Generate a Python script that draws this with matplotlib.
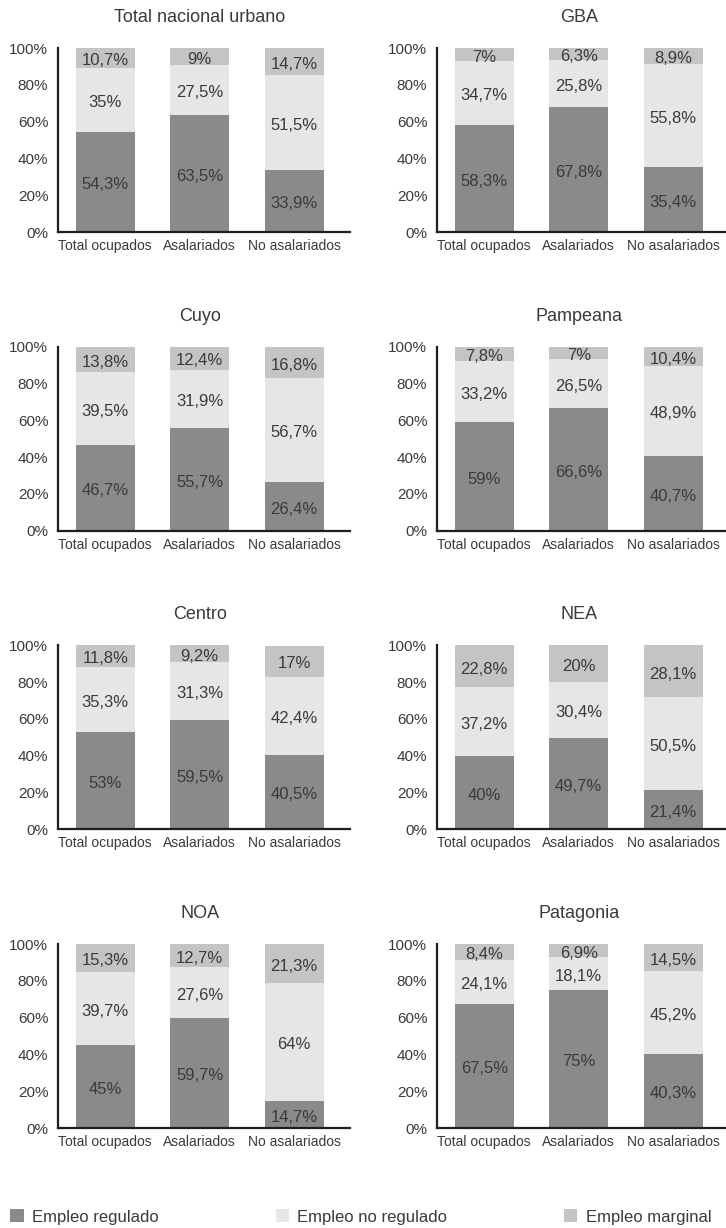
import matplotlib.pyplot as plt
from matplotlib.patches import Patch

regions = ["Total nacional urbano", "GBA", "Cuyo", "Pampeana",
           "Centro", "NEA", "NOA", "Patagonia"]
groups = ["Total ocupados", "Asalariados", "No asalariados"]

regulado = [[54.3, 63.5, 33.9], [58.3, 67.8, 35.4], [46.7, 55.7, 26.4], [59, 66.6, 40.7],
            [53, 59.5, 40.5], [40, 49.7, 21.4], [45, 59.7, 14.7], [67.5, 75, 40.3]]
no_regulado = [[35, 27.5, 51.5], [34.7, 25.8, 55.8], [39.5, 31.9, 56.7], [33.2, 26.5, 48.9],
               [35.3, 31.3, 42.4], [37.2, 30.4, 50.5], [39.7, 27.6, 64], [24.1, 18.1, 45.2]]
marginal = [[10.7, 9, 14.7], [7, 6.3, 8.9], [13.8, 12.4, 16.8], [7.8, 7, 10.4],
            [11.8, 9.2, 17], [22.8, 20, 28.1], [15.3, 12.7, 21.3], [8.4, 6.9, 14.5]]

series_names = ["Empleo regulado", "Empleo no regulado", "Empleo marginal"]
colors = ["#8a8a8c", "#e6e6e7", "#c4c4c5"]
text_color = "#3a3a3a"

plt.rcParams["font.family"] = ["Liberation Sans", "DejaVu Sans"]

W, H = 726, 1228
fig = plt.figure(figsize=(W / 100, H / 100), dpi=100)


def fmt(v):
    return f"{v:g}".replace(".", ",") + "%"


for i, name in enumerate(regions):
    row, col = divmod(i, 2)
    x0 = 58 if col == 0 else 437
    y_bottom = 232 + 298.7 * row
    ax = fig.add_axes([x0 / W, 1 - y_bottom / H, 292 / W, 184 / H])

    xs = range(len(groups))
    bottom = [0, 0, 0]
    for vals, color in zip([regulado[i], no_regulado[i], marginal[i]], colors):
        ax.bar(xs, vals, bottom=bottom, width=0.62, color=color, linewidth=0)
        for x, b, v in zip(xs, bottom, vals):
            ax.text(x, b + v / 2 - 1.5, fmt(v), ha="center", va="center",
                    fontsize=12, color=text_color)
        bottom = [b + v for b, v in zip(bottom, vals)]

    ax.set_xlim(-0.5, 2.59)
    ax.set_ylim(0, 100)
    ax.set_yticks([0, 20, 40, 60, 80, 100], ["0%", "20%", "40%", "60%", "80%", "100%"])
    ax.set_xticks(list(xs), groups)
    ax.tick_params(axis="y", length=0, pad=7, labelsize=11, labelcolor=text_color)
    ax.tick_params(axis="x", length=0, pad=5, labelsize=10, labelcolor=text_color)
    for side in ["top", "right"]:
        ax.spines[side].set_visible(False)
    for side in ["left", "bottom"]:
        ax.spines[side].set_linewidth(1.6)
        ax.spines[side].set_color("#1e1e1e")

    ax.annotate(name, xy=(1, 1), xycoords=("data", "axes fraction"),
                xytext=(0, 22), textcoords="offset points",
                ha="center", va="center", fontsize=13, color=text_color)

handles = [Patch(facecolor=c, edgecolor="none") for c in colors]
fig.legend(handles, series_names, loc="center", bbox_to_anchor=(0.497, 1 - 1217 / H),
           ncol=3, frameon=False, fontsize=12, handlelength=0.8, handleheight=0.8,
           handletextpad=0.5, columnspacing=7.0, labelcolor=text_color)

fig.savefig("out.png", dpi=100)
